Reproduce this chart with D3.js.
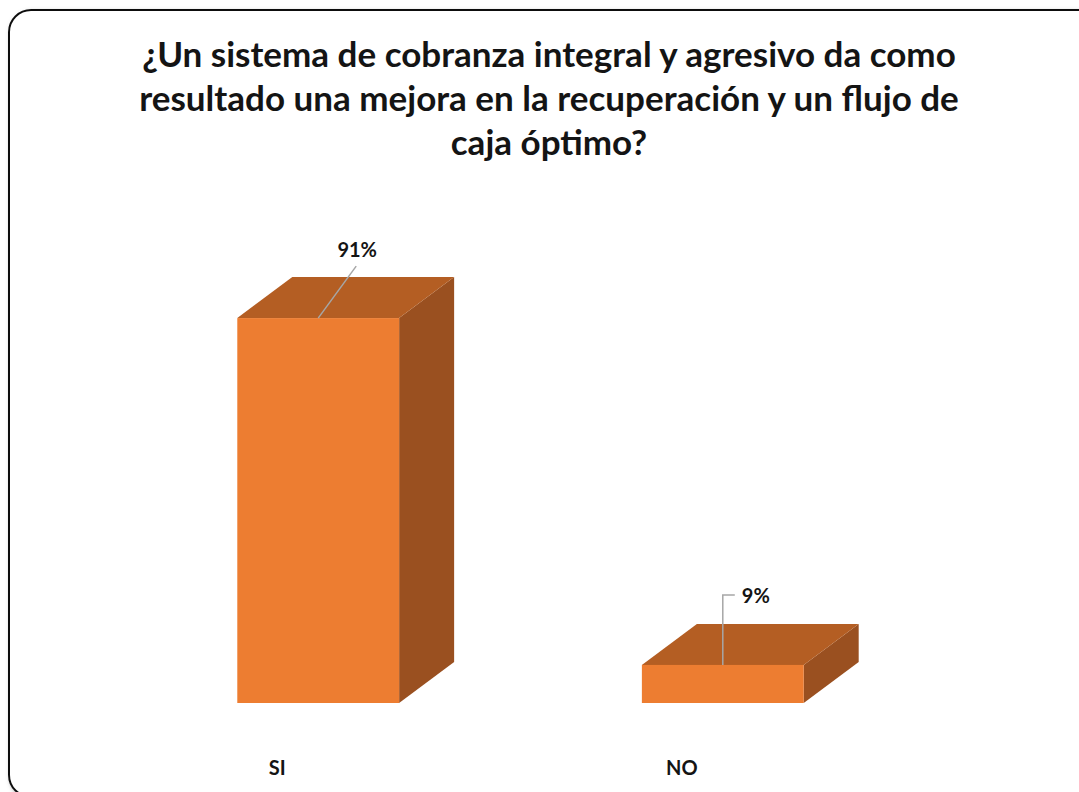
<!DOCTYPE html>
<html>
<head>
<meta charset="utf-8">
<script src="https://cdn.jsdelivr.net/npm/d3@7"></script>
<style>
  html, body { margin: 0; padding: 0; background: #ffffff; }
  svg { display: block; }
  text { font-family: Lato, "Open Sans", "DejaVu Sans", sans-serif; font-weight: bold; fill: #141414; }
</style>
</head>
<body>
<svg id="chart" width="1079" height="792"></svg>
<script>
// Survey answers and their shares (percent)
const categories = ["SI", "NO"];
const values = [91, 9];
const valueLabels = ["91%", "9%"];
const titleLines = [
  "¿Un sistema de cobranza integral y agresivo da como",
  "resultado una mejora en la recuperación y un flujo de",
  "caja óptimo?"
];

const W = 1079, H = 792;
const svg = d3.select("#chart");

// Drop shadow for the chart frame
const defs = svg.append("defs");
const f = defs.append("filter").attr("id", "frameShadow")
  .attr("x", "-5%").attr("y", "-5%").attr("width", "110%").attr("height", "110%");
f.append("feDropShadow").attr("dx", 2).attr("dy", 2).attr("stdDeviation", 2)
  .attr("flood-color", "#808080").attr("flood-opacity", 0.7);

svg.append("rect")
  .attr("x", 9).attr("y", 10).attr("width", 1110).attr("height", 787)
  .attr("rx", 22).attr("ry", 22)
  .attr("fill", "#ffffff").attr("stroke", "#111").attr("stroke-width", 2)
  .attr("filter", "url(#frameShadow)");

// Title
const title = svg.append("text").attr("text-anchor", "middle").style("font-size", "35px");
titleLines.forEach((t, i) => {
  title.append("tspan").attr("x", 549).attr("y", 67 + i * 44).text(t);
});

// Scales
const x = d3.scaleBand().domain(categories).range([35, 1006]).paddingInner(0.6).paddingOuter(0.5);
const y = d3.scaleLinear().domain([0, 100]).range([703, 280]);

// 3D depth offset
const dx = 55, dy = -41;
const colFront = "#ED7D31", colTop = "#B45E23", colSide = "#9A5020";

const data = categories.map((c, i) => ({ cat: c, v: values[i], label: valueLabels[i] }));

const bars = svg.append("g").selectAll("g").data(data).join("g");

// right side face
bars.append("path")
  .attr("fill", colSide)
  .attr("d", d => {
    const x1 = x(d.cat) + x.bandwidth(), yt = y(d.v), yb = y(0);
    return `M${x1},${yt}L${x1 + dx},${yt + dy}L${x1 + dx},${yb + dy}L${x1},${yb}Z`;
  });
// top face
bars.append("path")
  .attr("fill", colTop)
  .attr("d", d => {
    const x0 = x(d.cat), x1 = x0 + x.bandwidth(), yt = y(d.v);
    return `M${x0},${yt}L${x0 + dx},${yt + dy}L${x1 + dx},${yt + dy}L${x1},${yt}Z`;
  });
// front face
bars.append("rect")
  .attr("fill", colFront)
  .attr("x", d => x(d.cat))
  .attr("y", d => y(d.v))
  .attr("width", x.bandwidth())
  .attr("height", d => y(0) - y(d.v));

// Value labels with leader lines
const lead = "#a6a6a6";
// SI: slanted leader
{
  const d = data[0];
  const px = x(d.cat) + x.bandwidth() * 0.5, py = y(d.v);
  svg.append("line").attr("x1", px).attr("y1", py).attr("x2", px + 38).attr("y2", py - 52)
    .attr("stroke", lead).attr("stroke-width", 1.5);
  svg.append("text").attr("x", px + 39).attr("y", py - 61).attr("text-anchor", "middle")
    .style("font-size", "20px").text(d.label);
}
// NO: elbow leader
{
  const d = data[1];
  const px = x(d.cat) + x.bandwidth() * 0.5, py = y(d.v);
  svg.append("path").attr("fill", "none").attr("stroke", lead).attr("stroke-width", 1.5)
    .attr("d", `M${px},${py}V${py - 70}H${px + 12}`);
  svg.append("text").attr("x", px + 19).attr("y", py - 62).attr("text-anchor", "start")
    .style("font-size", "20px").text(d.label);
}

// Category labels
svg.append("g").selectAll("text").data(data).join("text")
  .attr("x", d => x(d.cat) + x.bandwidth() / 2 - 41)
  .attr("y", 775)
  .attr("text-anchor", "middle")
  .style("font-size", "20px")
  .text(d => d.cat);
</script>
</body>
</html>
